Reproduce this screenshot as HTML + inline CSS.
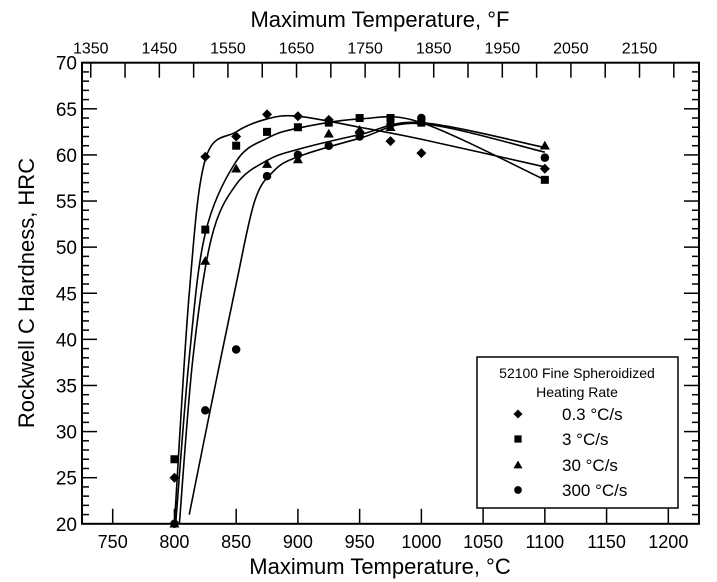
<!DOCTYPE html>
<html><head><meta charset="utf-8"><style>
html,body{margin:0;padding:0;background:#fff;overflow:hidden;}
svg{display:block;font-family:"Liberation Sans",Arial,sans-serif;}
</style></head><body>
<svg id="s" width="717" height="582" viewBox="0 0 717 582" xmlns="http://www.w3.org/2000/svg">
<defs><clipPath id="c"><rect x="82" y="62.7" width="617" height="461.1"/></clipPath></defs>
<rect x="0" y="0" width="717" height="582" fill="#fff"/>
<g id="g"></g>
<text x="380" y="27" font-size="22" text-anchor="middle">Maximum Temperature, °F</text>
<text x="380" y="574" font-size="22" text-anchor="middle">Maximum Temperature, °C</text>
<text transform="translate(34,293) rotate(-90)" font-size="22" text-anchor="middle">Rockwell C Hardness, HRC</text>
<rect x="477" y="357" width="201" height="151" fill="#fff" stroke="#000" stroke-width="1.5"/>
<text x="577" y="378" font-size="14" text-anchor="middle">52100 Fine Spheroidized</text>
<text x="577" y="397" font-size="14" text-anchor="middle">Heating Rate</text>
<text x="562" y="420" font-size="17">0.3 °C/s</text>
<text x="562" y="445" font-size="17">3 °C/s</text>
<text x="562" y="471" font-size="17">30 °C/s</text>
<text x="562" y="496" font-size="17">300 °C/s</text>
<g id="leg"></g>
</svg>
<script>
const X=t=>112.7+(t-750)*1.2347, Y=h=>62.7+(70-h)*9.222;
const L=82,R=699,T=62.7,B=523.8;
let s='';
s+=`<rect x="${L}" y="${T}" width="${R-L}" height="${B-T}" fill="none" stroke="#000" stroke-width="2"/>`;
for(let t=750;t<=1200;t+=50){const x=X(t);s+=`<line x1="${x}" y1="${B}" x2="${x}" y2="${B-15}" stroke="#000" stroke-width="1.5"/><text x="${x}" y="${B+24}" font-size="18" text-anchor="middle">${t}</text>`;}
for(let f=1350;f<=2200;f+=50){const c=(f-32)*5/9;const x=X(c);if(x<L+2||x>R-2)continue;s+=`<line x1="${x}" y1="${T}" x2="${x}" y2="${T+15}" stroke="#000" stroke-width="1.5"/>`;if(f%100==50)s+=`<text x="${x}" y="${T-9}" font-size="16" text-anchor="middle">${f}</text>`;}
for(let h=20;h<=70;h++){const y=Y(h);const len=h%5==0?15:7;s+=`<line x1="${L}" y1="${y}" x2="${L+len}" y2="${y}" stroke="#000" stroke-width="1.5"/><line x1="${R}" y1="${y}" x2="${R-len}" y2="${y}" stroke="#000" stroke-width="1.5"/>`;if(h%5==0)s+=`<text x="${L-5}" y="${y+7}" font-size="19" text-anchor="end">${h}</text>`;}
function path(pts){pts=pts.map(p=>[X(p[0]),Y(p[1])]);let d=`M${pts[0][0]},${pts[0][1]}`;for(let i=0;i<pts.length-1;i++){const p0=pts[Math.max(0,i-1)],p1=pts[i],p2=pts[i+1],p3=pts[Math.min(pts.length-1,i+2)];d+=` C${p1[0]+(p2[0]-p0[0])/6},${p1[1]+(p2[1]-p0[1])/6} ${p2[0]-(p3[0]-p1[0])/6},${p2[1]-(p3[1]-p1[1])/6} ${p2[0]},${p2[1]}`;}return `<path d="${d}" fill="none" stroke="#000" stroke-width="1.6" clip-path="url(#c)"/>`;}
s+=path([[800,20],[812,45],[825,59.5],[850,62.5],[875,63.9],[900,64.2],[950,63],[1000,61.7],[1100,58.7]]);
s+=path([[801,20],[812,38],[825,51.5],[850,59.3],[875,61.8],[900,62.9],[950,63.9],[1000,63.5],[1100,57.3]]);
s+=path([[804,20],[815,38],[830,51],[850,56.8],[875,59.4],[900,60.6],[950,62.2],[1000,63.5],[1100,60.8]]);
s+=path([[812,21],[830,33],[850,46],[865,55],[880,58.2],[900,59.8],[950,61.8],[1000,63.4],[1100,60.3]]);
function mk(type,x,y,r){if(type==0)return `<polygon points="${x},${y-r} ${x+r},${y} ${x},${y+r} ${x-r},${y}" fill="#000"/>`;if(type==1)return `<rect x="${x-r*0.8}" y="${y-r*0.8}" width="${r*1.6}" height="${r*1.6}" fill="#000"/>`;if(type==2)return `<polygon points="${x},${y-r} ${x+r},${y+r*0.75} ${x-r},${y+r*0.75}" fill="#000"/>`;return `<circle cx="${x}" cy="${y}" r="${r*0.85}" fill="#000"/>`;}
const D=[
[[800,25],[825,59.8],[850,62],[875,64.4],[900,64.2],[925,63.8],[950,62.5],[975,61.5],[1000,60.2],[1100,58.5]],
[[800,27],[825,51.9],[850,61],[875,62.5],[900,63],[925,63.5],[950,64],[975,64],[1000,63.5],[1100,57.3]],
[[800,20],[825,48.5],[850,58.5],[875,59],[900,59.5],[925,62.3],[950,62.7],[975,63],[1000,63.7],[1100,61]],
[[800,20],[825,32.3],[850,38.9],[875,57.7],[900,60],[925,61],[950,62],[975,63.3],[1000,64],[1100,59.7]]];
D.forEach((a,i)=>a.forEach(p=>s+=mk(i,X(p[0]),Y(p[1]),5)));
document.getElementById('g').innerHTML=s;
let l='';[420,445,471,496].forEach((y,i)=>l+=mk(i,518,y-6,4.5));
document.getElementById('leg').innerHTML=l;
</script>
</body></html>
